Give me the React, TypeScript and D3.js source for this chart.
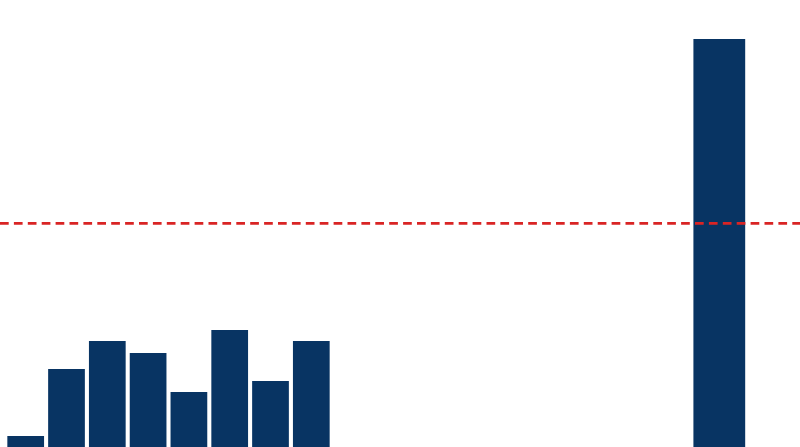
import { useEffect, useRef } from "react";
import * as d3 from "d3";

// data
const categories = ["1", "2", "3", "4", "5", "6", "7", "8", "Total"];
const values = [11, 78, 106, 94, 55, 117, 66, 106, 408];
const threshold = 224;

const W = 800;
const H = 447;
const SLOTS = 18;

export default function App() {
  const ref = useRef<SVGSVGElement>(null);

  useEffect(() => {
    if (!ref.current) return;
    const svg = d3.select(ref.current);
    svg.selectAll("*").remove();

    const x = d3
      .scaleBand<number>()
      .domain(d3.range(SLOTS))
      .range([5.3, 739.7])
      .paddingInner(0.1)
      .paddingOuter(0.05);

    const y = d3.scaleLinear().domain([0, H]).range([H, 0]);

    const slot = (i: number) => (i === categories.length - 1 ? SLOTS - 1 : i);
    const bw = (i: number) =>
      i === categories.length - 1 ? x.bandwidth() * 1.41 : x.bandwidth();

    // bars
    svg
      .append("g")
      .selectAll("rect")
      .data(values)
      .join("rect")
      .attr("x", (_, i) => x(slot(i))! + x.bandwidth() / 2 - bw(i) / 2)
      .attr("y", (d) => y(d))
      .attr("width", (_, i) => bw(i))
      .attr("height", (d) => y(0) - y(d))
      .attr("fill", "#083463");

    // threshold line
    svg
      .append("line")
      .attr("x1", 0)
      .attr("x2", W)
      .attr("y1", y(threshold) + 0.3)
      .attr("y2", y(threshold) + 0.3)
      .attr("stroke", "#d92424")
      .attr("stroke-width", 2.8)
      .attr("stroke-dasharray", "8.7 5.2");
  }, []);

  return (
    <div style={{ position: "fixed", left: 0, top: 0, width: W, height: H, background: "#fff" }}>
      <svg ref={ref} width={W} height={H} style={{ display: "block" }} />
    </div>
  );
}
